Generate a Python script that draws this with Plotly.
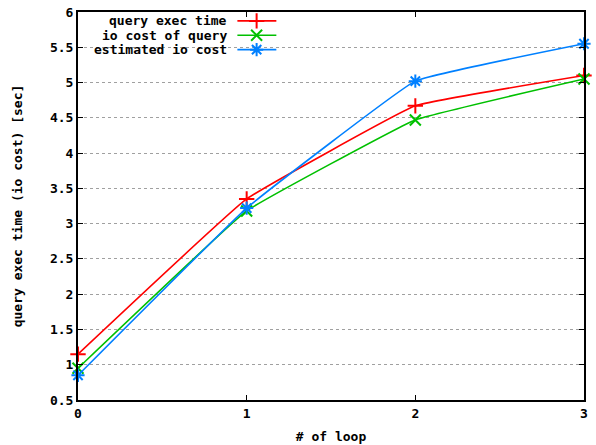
import plotly.graph_objects as go

loops = [0, 1, 2, 3]
query_exec_time = [1.15, 3.35, 4.67, 5.1]
io_cost_of_query = [0.95, 3.18, 4.47, 5.05]
estimated_io_cost = [0.85, 3.22, 5.02, 5.55]

series_names = ["query exec time", "io cost of query", "estimated io cost"]
series_values = [query_exec_time, io_cost_of_query, estimated_io_cost]
colors = ["#ff0000", "#00c000", "#0080ff"]
symbols = ["cross-thin", "x-thin", "asterisk"]

y_ticks = [0.5, 1, 1.5, 2, 2.5, 3, 3.5, 4, 4.5, 5, 5.5, 6]
y_tick_labels = ["0.5", "1", "1.5", "2", "2.5", "3", "3.5", "4", "4.5", "5", "5.5", "6"]
x_ticks = [0, 1, 2, 3]

FONT = "DejaVu Sans Mono"

fig = go.Figure()

for name, vals, c, s in zip(series_names, series_values, colors, symbols):
    fig.add_trace(go.Scatter(
        x=loops, y=vals, mode="lines+markers", name=name,
        line=dict(color=c, width=1.6, shape="spline", smoothing=0.25),
        marker=dict(symbol=s, size=11, color=c, line=dict(color=c, width=2)),
        showlegend=False, cliponaxis=False,
    ))

# custom legend (text right-aligned, sample on right) on a hidden overlay axis
legend_rows = [0.977, 0.94, 0.903]
for name, c, s, yy in zip(series_names, colors, symbols, legend_rows):
    fig.add_trace(go.Scatter(
        x=[0.315, 0.392], y=[yy, yy], mode="lines", xaxis="x2", yaxis="y2",
        line=dict(color=c, width=1.6), showlegend=False, hoverinfo="skip",
    ))
    fig.add_trace(go.Scatter(
        x=[0.353], y=[yy], mode="markers", xaxis="x2", yaxis="y2",
        marker=dict(symbol=s, size=11, color=c, line=dict(color=c, width=2)),
        showlegend=False, hoverinfo="skip",
    ))
    fig.add_annotation(
        x=0.298, y=yy, xref="x2", yref="y2", text=name, showarrow=False,
        xanchor="right", yanchor="middle",
        font=dict(family=FONT, size=13, color="black", weight="bold"),
    )

# white box behind legend to hide grid lines
fig.add_shape(type="rect", xref="paper", yref="paper", x0=0, x1=0.405, y0=0.88, y1=1,
              fillcolor="white", line=dict(width=0), layer="between")

axis_common = dict(
    showline=True, linecolor="black", linewidth=2, mirror="ticks",
    ticks="inside", ticklen=5, tickcolor="black", tickwidth=1,
    zeroline=False, automargin=False,
    tickfont=dict(family=FONT, size=13, color="black", weight="bold"),
)

fig.update_layout(
    width=596, height=445,
    margin=dict(l=78, r=12, t=12, b=45, autoexpand=False),
    paper_bgcolor="white", plot_bgcolor="white",
    xaxis=dict(range=[0, 3], tickvals=x_ticks, showgrid=False,
               title=dict(text="# of loop", standoff=12,
                          font=dict(family=FONT, size=13, color="black", weight="bold")),
               **axis_common),
    yaxis=dict(range=[0.5, 6], tickvals=y_ticks, ticktext=y_tick_labels,
               showgrid=True, gridcolor="#a0a0a0", gridwidth=1, griddash="3px,3px",
               title=dict(text="query exec time (io cost) [sec]", standoff=24,
                          font=dict(family=FONT, size=13, color="black", weight="bold")),
               **axis_common),
    xaxis2=dict(range=[0, 1], overlaying="x", visible=False, fixedrange=True),
    yaxis2=dict(range=[0, 1], overlaying="y", visible=False, fixedrange=True),
)

fig.write_html("out.html", config={"displayModeBar": False},
               post_script="document.body.style.margin='0';")
